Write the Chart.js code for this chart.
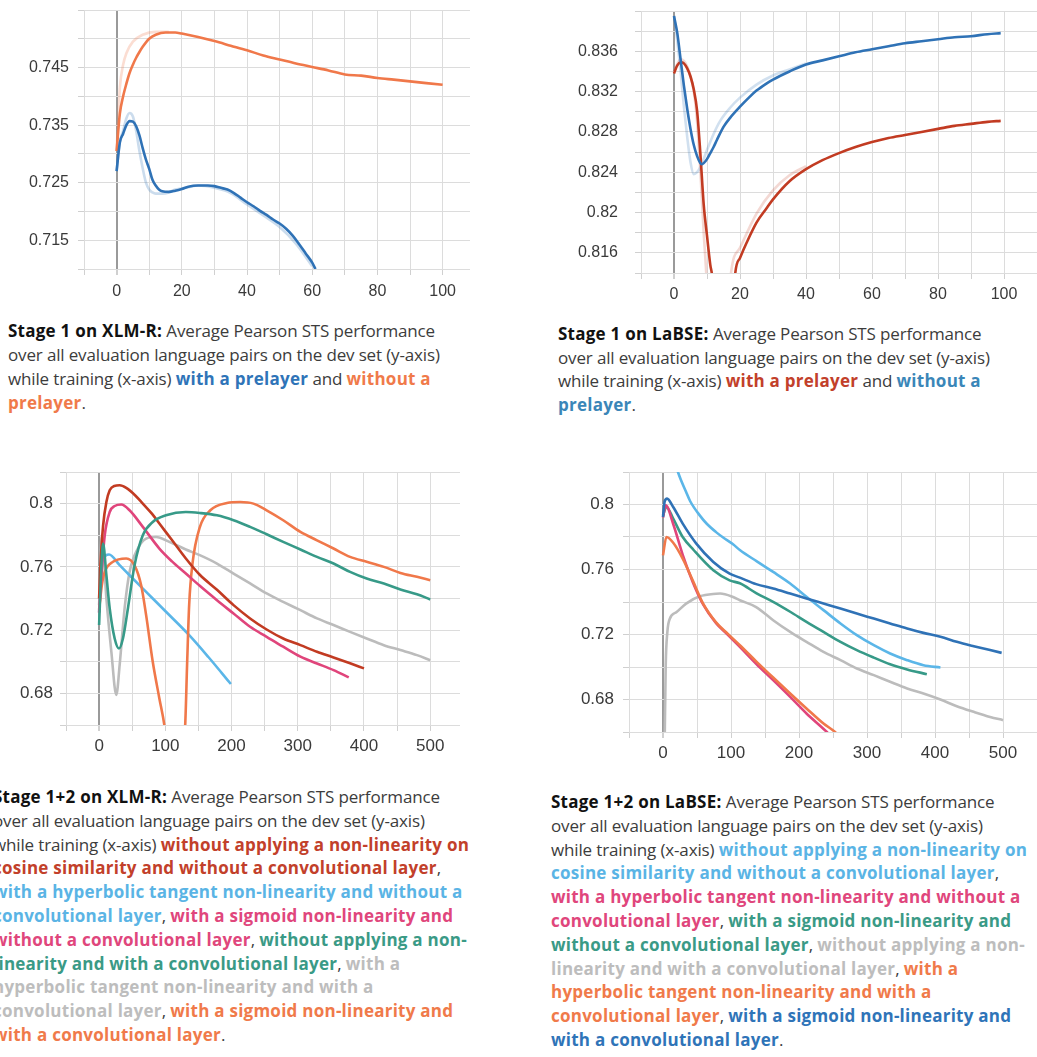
<!DOCTYPE html>
<html lang="en">
<head>
<meta charset="UTF-8">
<title>Pearson STS dev curves</title>
<script src="https://cdn.jsdelivr.net/npm/chart.js"></script>
<style>
    body { margin: 0; background: #fff; }
    .page { position: relative; width: 1037px; height: 1057px; overflow: hidden; }
    canvas { position: absolute; }
    .cap {
        position: absolute;
        font-family: 'Open Sans', 'Noto Sans', sans-serif;
        font-size: 17px;
        letter-spacing: -0.15px;
        color: #3c3c3c;
        white-space: nowrap;
    }
    .cap b { font-weight: 700; color: #111; letter-spacing: 0.25px; }
    .cap span { font-weight: 700; letter-spacing: 0.25px; }
    .blue { color: #2f74b8; }
    .steel { color: #3a86b8; }
    .orange { color: #f07a4a; }
    .red { color: #c2402a; }
    .lblue { color: #5ab4e5; }
    .pink { color: #e0467c; }
    .teal { color: #3a9a86; }
    .grey { color: #bdbdbd; }
</style>
</head>
<body>
<div class="page">
    <canvas id="c1" width="470" height="310" style="left:0;top:0"></canvas>
    <canvas id="c2" width="477" height="315" style="left:560px;top:0"></canvas>
    <canvas id="c3" width="460" height="310" style="left:0;top:460px"></canvas>
    <canvas id="c4" width="497" height="320" style="left:540px;top:460px"></canvas>

    <div class="cap" style="left:8px;top:319px;line-height:24px">
        <b>Stage 1 on XLM-R:</b> Average Pearson STS performance<br>
        over all evaluation language pairs on the dev set (y-axis)<br>
        while training (x-axis) <span class="blue">with a prelayer</span> and <span class="orange">without a</span><br>
        <span class="orange">prelayer</span>.
    </div>
    <div class="cap" style="left:558px;top:322px;line-height:23.5px">
        <b>Stage 1 on LaBSE:</b> Average Pearson STS performance<br>
        over all evaluation language pairs on the dev set (y-axis)<br>
        while training (x-axis) <span class="red">with a prelayer</span> and <span class="steel">without a</span><br>
        <span class="steel">prelayer</span>.
    </div>
    <div class="cap" style="left:-7px;top:785px;line-height:23.8px">
        <b>Stage 1+2 on XLM-R:</b> Average Pearson STS performance<br>
        over all evaluation language pairs on the dev set (y-axis)<br>
        while training (x-axis) <span class="red">without applying a non-linearity on</span><br>
        <span class="red">cosine similarity and without a convolutional layer</span>,<br>
        <span class="lblue">with a hyperbolic tangent non-linearity and without a</span><br>
        <span class="lblue">convolutional layer</span>, <span class="pink">with a sigmoid non-linearity and</span><br>
        <span class="pink">without a convolutional layer</span>, <span class="teal">without applying a non-</span><br>
        <span class="teal">linearity and with a convolutional layer</span>, <span class="grey">with a</span><br>
        <span class="grey">hyperbolic tangent non-linearity and with a</span><br>
        <span class="grey">convolutional layer</span>, <span class="orange">with a sigmoid non-linearity and</span><br>
        <span class="orange">with a convolutional layer</span>.
    </div>
    <div class="cap" style="left:551px;top:790px;line-height:23.8px">
        <b>Stage 1+2 on LaBSE:</b> Average Pearson STS performance<br>
        over all evaluation language pairs on the dev set (y-axis)<br>
        while training (x-axis) <span class="lblue">without applying a non-linearity on</span><br>
        <span class="lblue">cosine similarity and without a convolutional layer</span>,<br>
        <span class="pink">with a hyperbolic tangent non-linearity and without a</span><br>
        <span class="pink">convolutional layer</span>, <span class="teal">with a sigmoid non-linearity and</span><br>
        <span class="teal">without a convolutional layer</span>, <span class="grey">without applying a non-</span><br>
        <span class="grey">linearity and with a convolutional layer</span>, <span class="orange">with a</span><br>
        <span class="orange">hyperbolic tangent non-linearity and with a</span><br>
        <span class="orange">convolutional layer</span>, <span class="blue">with a sigmoid non-linearity and</span><br>
        <span class="blue">with a convolutional layer</span>.
    </div>
</div>
<script>
    // ---- Stage 1 on XLM-R ----
    const xlmrPreX = [0, 1, 2, 3, 4, 5, 6, 7, 8, 9, 10, 11, 12, 13, 14, 16, 18, 20, 22, 25, 28, 30, 32, 34, 36, 38, 40, 42, 44, 46, 48, 50, 52, 54, 56, 58, 60, 61];
    const xlmrPreY = [0.727, 0.732, 0.7335, 0.735, 0.7357, 0.7356, 0.7348, 0.7332, 0.731, 0.729, 0.7274, 0.7255, 0.7245, 0.7238, 0.7235, 0.7234, 0.7236, 0.7239, 0.7243, 0.7245, 0.7245, 0.7244, 0.7241, 0.7238, 0.7232, 0.7224, 0.7216, 0.7209, 0.7201, 0.7194, 0.7186, 0.7179, 0.717, 0.7158, 0.7143, 0.7127, 0.7111, 0.71];
    const xlmrPreRawX = [0, 1, 2, 3, 4, 5, 6, 7, 8, 9, 10, 11, 12, 14, 16, 18, 20, 22, 25, 30, 35, 40, 45, 50, 55, 60];
    const xlmrPreRawY = [0.727, 0.732, 0.734, 0.7362, 0.7371, 0.7365, 0.734, 0.7305, 0.7275, 0.725, 0.7238, 0.7233, 0.7231, 0.7231, 0.7233, 0.7238, 0.724, 0.7242, 0.7245, 0.7241, 0.7232, 0.7212, 0.7193, 0.7173, 0.7144, 0.7105];
    const xlmrNoPreX = [0, 1, 2, 3, 4, 5, 6, 7, 8, 10, 12, 15, 18, 20, 25, 30, 35, 40, 45, 50, 55, 60, 65, 70, 75, 80, 85, 90, 95, 100];
    const xlmrNoPreY = [0.7305, 0.737, 0.74, 0.7422, 0.7441, 0.7455, 0.7467, 0.7477, 0.7486, 0.75, 0.7507, 0.7511, 0.7511, 0.7509, 0.7503, 0.7496, 0.7488, 0.748, 0.7471, 0.7464, 0.7457, 0.7451, 0.7445, 0.7438, 0.7436, 0.7432, 0.7429, 0.7426, 0.7423, 0.742];
    const xlmrNoPreRawX = [0, 1, 2, 3, 5, 8, 12, 16];
    const xlmrNoPreRawY = [0.7305, 0.7415, 0.7455, 0.7475, 0.7495, 0.7507, 0.7512, 0.7512];
    const c1XTicks = [-10, 0, 10, 20, 30, 40, 50, 60, 70, 80, 90, 100];
    const c1XLabels = ['', '0', '', '20', '', '40', '', '60', '', '80', '', '100'];
    const c1YTicks = [0.71, 0.715, 0.72, 0.725, 0.73, 0.735, 0.74, 0.745, 0.75, 0.755];
    const c1YLabels = ['', '0.715', '', '0.725', '', '0.735', '', '0.745', '', ''];

    // ---- Stage 1 on LaBSE ----
    const labsePreX = [0, 1, 2, 3, 4, 5, 6, 7, 8, 9, 10, 11, 11.6, 15, 18.5, 20, 22, 25, 28, 30, 35, 40, 45, 50, 55, 60, 65, 70, 75, 80, 85, 90, 95, 99];
    const labsePreY = [0.8338, 0.8346, 0.8349, 0.8348, 0.8343, 0.8335, 0.8322, 0.8301, 0.8258, 0.8208, 0.8177, 0.8148, 0.8135, 0.79, 0.8138, 0.8155, 0.817, 0.819, 0.8204, 0.8213, 0.8231, 0.8243, 0.8252, 0.8259, 0.8265, 0.827, 0.8274, 0.8277, 0.828, 0.8283, 0.8286, 0.8288, 0.829, 0.8291];
    const labsePreRawX = [0, 2, 4, 6, 7, 8, 9, 9.8, 13, 17.2, 20, 25, 30, 35, 40];
    const labsePreRawY = [0.834, 0.8352, 0.8345, 0.832, 0.829, 0.824, 0.818, 0.8138, 0.79, 0.8138, 0.8165, 0.8199, 0.8222, 0.8237, 0.8246];
    const labseNoPreX = [0, 1, 2, 3, 4, 5, 6, 7, 8, 8.5, 9, 10, 11, 12, 13, 15, 17, 20, 23, 25, 28, 30, 35, 40, 45, 50, 55, 60, 65, 70, 75, 80, 85, 90, 95, 99];
    const labseNoPreY = [0.8395, 0.8378, 0.8352, 0.8326, 0.8303, 0.8283, 0.8267, 0.8256, 0.8249, 0.8248, 0.8249, 0.8253, 0.8259, 0.8265, 0.8272, 0.8285, 0.8294, 0.8305, 0.8315, 0.8321, 0.8328, 0.8332, 0.834, 0.8347, 0.8351, 0.8355, 0.8359, 0.8362, 0.8365, 0.8368, 0.837, 0.8372, 0.8374, 0.8375, 0.8377, 0.8378];
    const labseNoPreRawX = [0, 1, 2, 3, 4, 5, 6, 7, 8, 10, 12, 14, 17, 20, 25, 30, 35, 40];
    const labseNoPreRawY = [0.8395, 0.837, 0.834, 0.8305, 0.8275, 0.825, 0.8238, 0.824, 0.8245, 0.8262, 0.8278, 0.8291, 0.8304, 0.8314, 0.8327, 0.8336, 0.8342, 0.8348];
    const c2XTicks = [-10, 0, 10, 20, 30, 40, 50, 60, 70, 80, 90, 100];
    const c2XLabels = ['', '0', '', '20', '', '40', '', '60', '', '80', '', '100'];
    const c2YTicks = [0.814, 0.816, 0.818, 0.82, 0.822, 0.824, 0.826, 0.828, 0.83, 0.832, 0.834, 0.836, 0.838, 0.84];
    const c2YLabels = ['', '0.816', '', '0.82', '', '0.824', '', '0.828', '', '0.832', '', '0.836', '', ''];

    // ---- Stage 1+2 on XLM-R ----
    const xs2NoneX = [0, 2, 6, 11, 16, 23, 31, 41, 55, 66, 80, 91, 110, 131, 152, 178, 203, 228, 253, 278, 304, 329, 354, 379, 400];
    const xs2NoneY = [0.74, 0.761, 0.786, 0.801, 0.8084, 0.8112, 0.8116, 0.8099, 0.805, 0.8, 0.7935, 0.7874, 0.777, 0.7653, 0.755, 0.7455, 0.7358, 0.7274, 0.7204, 0.7147, 0.7105, 0.7063, 0.7027, 0.699, 0.6958];
    const xs2TanhX = [0, 5, 15, 31, 46, 71, 101, 136, 165, 185, 199];
    const xs2TanhY = [0.7316, 0.7632, 0.7678, 0.7611, 0.7547, 0.7442, 0.7316, 0.7168, 0.703, 0.693, 0.6859];
    const xs2SigX = [0, 3.5, 8.5, 16, 23.5, 33.5, 46, 66, 91, 110, 131, 152, 178, 203, 228, 253, 278, 304, 329, 354, 377];
    const xs2SigY = [0.731, 0.7547, 0.78, 0.7947, 0.7985, 0.7994, 0.7958, 0.7853, 0.7716, 0.7635, 0.7558, 0.748, 0.7389, 0.7305, 0.7221, 0.7158, 0.7095, 0.7032, 0.6989, 0.6947, 0.6901];
    const xs2ConvX = [0, 3.5, 6, 11, 16, 23.5, 30, 36, 43.5, 53.5, 66, 81, 101, 131, 152, 178, 203, 228, 253, 278, 304, 329, 354, 379, 404, 430, 455, 480, 500];
    const xs2ConvY = [0.7232, 0.761, 0.7747, 0.7547, 0.7337, 0.7147, 0.7084, 0.7147, 0.7337, 0.761, 0.78, 0.7884, 0.7926, 0.7947, 0.7941, 0.7926, 0.7895, 0.7853, 0.7806, 0.7758, 0.771, 0.7663, 0.7621, 0.7568, 0.7526, 0.7495, 0.7457, 0.7427, 0.7394];
    const xs2ConvTanhX = [0, 4, 11, 18.5, 26, 31, 38.5, 46, 58.5, 71, 86, 106, 131, 152, 178, 203, 228, 253, 278, 304, 329, 354, 379, 404, 430, 455, 480, 500];
    const xs2ConvTanhY = [0.7358, 0.78, 0.74, 0.7063, 0.679, 0.6979, 0.7337, 0.7568, 0.7716, 0.7779, 0.7789, 0.7758, 0.771, 0.7674, 0.7621, 0.7558, 0.7495, 0.7432, 0.7379, 0.7326, 0.7274, 0.7232, 0.7189, 0.7147, 0.7105, 0.7074, 0.7042, 0.701];
    const xs2ConvSigX = [0, 4, 8.5, 21, 41, 53.5, 63.5, 71, 81, 91, 98.5, 110, 120, 130, 133, 136, 141, 152, 168, 193, 213, 233, 253, 278, 304, 329, 354, 379, 404, 430, 455, 480, 500];
    const xs2ConvSigY = [0.733, 0.748, 0.7568, 0.7632, 0.7653, 0.761, 0.7484, 0.7295, 0.7, 0.6768, 0.66, 0.62, 0.62, 0.66, 0.7, 0.736, 0.762, 0.785, 0.7958, 0.8004, 0.801, 0.8, 0.7958, 0.7895, 0.7821, 0.7768, 0.7716, 0.7663, 0.7632, 0.76, 0.7562, 0.7537, 0.7516];
    const c3XTicks = [-50, 0, 50, 100, 150, 200, 250, 300, 350, 400, 450, 500];
    const c3XLabels = ['', '0', '', '100', '', '200', '', '300', '', '400', '', '500'];
    const c3YTicks = [0.66, 0.68, 0.7, 0.72, 0.74, 0.76, 0.78, 0.8, 0.82];
    const c3YLabels = ['', '0.68', '', '0.72', '', '0.76', '', '0.8', ''];

    // ---- Stage 1+2 on LaBSE ----
    const lb2NoneX = [5, 12, 22, 34, 40, 54, 64, 78, 89, 103, 113, 138, 162, 187, 211, 236, 261, 285, 310, 334, 359, 383, 408];
    const lb2NoneY = [0.855, 0.835, 0.82, 0.8077, 0.802, 0.7933, 0.7883, 0.783, 0.7795, 0.7755, 0.772, 0.765, 0.7585, 0.7514, 0.7432, 0.735, 0.7268, 0.7196, 0.7134, 0.7083, 0.7042, 0.7011, 0.6997];
    const lb2TanhX = [0, 4, 15, 29, 44, 59, 78, 95, 113, 137, 162, 187, 211, 241, 250];
    const lb2TanhY = [0.792, 0.7995, 0.788, 0.769, 0.752, 0.7385, 0.727, 0.72, 0.7124, 0.702, 0.6919, 0.6816, 0.6714, 0.66, 0.656];
    const lb2SigX = [0, 5, 15, 29, 45, 74, 98, 113, 137, 162, 187, 211, 236, 261, 285, 310, 334, 359, 388];
    const lb2SigY = [0.7933, 0.7985, 0.7913, 0.78, 0.772, 0.7595, 0.7533, 0.7515, 0.7455, 0.7401, 0.734, 0.7278, 0.7216, 0.7155, 0.7104, 0.7058, 0.7017, 0.6985, 0.6956];
    const lb2ConvX = [0, 2, 4, 6.4, 10, 20, 34, 54, 78, 84, 103, 113, 137, 162, 187, 211, 236, 261, 285, 310, 334, 359, 383, 408, 432, 457, 481, 500];
    const lb2ConvY = [0.6, 0.64, 0.701, 0.7215, 0.7297, 0.7338, 0.739, 0.7435, 0.7451, 0.7452, 0.7431, 0.7411, 0.7369, 0.7288, 0.7216, 0.7155, 0.7093, 0.7042, 0.6991, 0.695, 0.6909, 0.6868, 0.6837, 0.68, 0.6759, 0.6724, 0.6693, 0.6673];
    const lb2ConvTanhX = [0, 5, 15, 29, 44, 59, 78, 95, 113, 137, 162, 187, 211, 236, 253, 260];
    const lb2ConvTanhY = [0.7687, 0.78, 0.7765, 0.7667, 0.753, 0.739, 0.7275, 0.7205, 0.7134, 0.7035, 0.6935, 0.6837, 0.6745, 0.6652, 0.66, 0.657];
    const lb2ConvSigX = [0, 2.5, 6, 15, 29, 49, 74, 98, 113, 137, 162, 187, 211, 236, 261, 285, 310, 334, 359, 383, 408, 432, 457, 481, 498];
    const lb2ConvSigY = [0.7923, 0.802, 0.8036, 0.7985, 0.7882, 0.7759, 0.7646, 0.7574, 0.755, 0.751, 0.7483, 0.7452, 0.7422, 0.7391, 0.736, 0.7329, 0.7298, 0.7268, 0.7237, 0.721, 0.7186, 0.7155, 0.7128, 0.7104, 0.7087];
    const c4XTicks = c3XTicks;
    const c4XLabels = c3XLabels;
    const c4YTicks = c3YTicks;
    const c4YLabels = c3YLabels;

    const TICK_FONT = "'Liberation Sans', Arial, sans-serif";

    function pts(xs, ys) {
        return xs.map((x, i) => ({ x: x, y: ys[i] }));
    }

    function line(xs, ys, color, order, width) {
        return {
            data: pts(xs, ys),
            borderColor: color,
            borderWidth: width || 2.6,
            pointRadius: 0,
            cubicInterpolationMode: 'monotone',
            fill: false,
            order: order
        };
    }

    // light grid, darker line at x = 0
    function gridOpts() {
        return {
            color: c => (c.tick && c.tick.value === 0 && c.scale.axis === 'x') ? '#9a9a9a' : '#dcdcdc',
            lineWidth: c => (c.tick && c.tick.value === 0 && c.scale.axis === 'x') ? 2 : 1,
            tickColor: '#d0d0d0',
            tickLength: 6,
            drawTicks: true
        };
    }

    function makeChart(id, g, datasets) {
        new Chart(document.getElementById(id), {
            type: 'line',
            data: { datasets: datasets },
            options: {
                responsive: false,
                animation: false,
                devicePixelRatio: 1,
                layout: { padding: { top: g.padTop, right: 0, left: 0, bottom: 0 } },
                plugins: { legend: { display: false }, tooltip: { enabled: false } },
                scales: {
                    x: {
                        type: 'linear',
                        min: g.xMin, max: g.xMax,
                        border: { display: false },
                        grid: gridOpts(),
                        afterBuildTicks: s => { s.ticks = g.xTicks.map(v => ({ value: v })); },
                        afterFit: s => { s.height = g.xH; s.paddingLeft = 0; s.paddingRight = 0; },
                        ticks: {
                            autoSkip: false, maxRotation: 0,
                            padding: g.xPad,
                            color: '#3a3a3a',
                            font: { family: TICK_FONT, size: g.font },
                            callback: (v, i) => g.xLabels[i]
                        }
                    },
                    y: {
                        type: 'linear',
                        min: g.yMin, max: g.yMax,
                        border: { display: false },
                        grid: gridOpts(),
                        afterBuildTicks: s => { s.ticks = g.yTicks.map(v => ({ value: v })); },
                        afterFit: s => { s.width = g.yW; s.paddingTop = 0; s.paddingBottom = 0; },
                        ticks: {
                            autoSkip: false,
                            padding: g.yPad,
                            color: '#3a3a3a',
                            font: { family: TICK_FONT, size: g.font },
                            callback: (v, i) => g.yLabels[i]
                        }
                    }
                }
            }
        });
    }

    const ORANGE = '#f0784a', BLUE = '#2f72b6', RED = '#c23b22', LBLUE = '#5bb6e8',
          PINK = '#e0457b', TEAL = '#379a88', GREY = '#bcbcbc';

    makeChart('c1', {
        xMin: -10, xMax: 108.4, yMin: 0.71, yMax: 0.755,
        xTicks: c1XTicks, xLabels: c1XLabels, yTicks: c1YTicks, yLabels: c1YLabels,
        yW: 84, xH: 41, padTop: 10, xPad: 7, yPad: 9, font: 16
    }, [
        line(xlmrNoPreRawX, xlmrNoPreRawY, 'rgba(240,120,74,0.25)', 4),
        line(xlmrPreRawX, xlmrPreRawY, 'rgba(47,114,182,0.25)', 3),
        line(xlmrNoPreX, xlmrNoPreY, ORANGE, 2),
        line(xlmrPreX, xlmrPreY, BLUE, 1)
    ]);

    makeChart('c2', {
        xMin: -10, xMax: 110, yMin: 0.814, yMax: 0.84,
        xTicks: c2XTicks, xLabels: c2XLabels, yTicks: c2YTicks, yLabels: c2YLabels,
        yW: 81, xH: 42, padTop: 11, xPad: 6, yPad: 17, font: 16
    }, [
        line(labsePreRawX, labsePreRawY, 'rgba(194,59,34,0.2)', 4),
        line(labseNoPreRawX, labseNoPreRawY, 'rgba(47,114,182,0.22)', 3),
        line(labsePreX, labsePreY, RED, 2),
        line(labseNoPreX, labseNoPreY, BLUE, 1)
    ]);

    makeChart('c3', {
        xMin: -50, xMax: 545, yMin: 0.66, yMax: 0.82,
        xTicks: c3XTicks, xLabels: c3XLabels, yTicks: c3YTicks, yLabels: c3YLabels,
        yW: 66, xH: 45, padTop: 12, xPad: 5, yPad: 7, font: 17
    }, [
        line(xs2ConvTanhX, xs2ConvTanhY, GREY, 6),
        line(xs2TanhX, xs2TanhY, LBLUE, 5),
        line(xs2ConvSigX, xs2ConvSigY, ORANGE, 4),
        line(xs2SigX, xs2SigY, PINK, 3),
        line(xs2NoneX, xs2NoneY, RED, 2),
        line(xs2ConvX, xs2ConvY, TEAL, 1)
    ]);

    makeChart('c4', {
        xMin: -50, xMax: 550, yMin: 0.66, yMax: 0.82,
        xTicks: c4XTicks, xLabels: c4XLabels, yTicks: c4YTicks, yLabels: c4YLabels,
        yW: 89, xH: 48, padTop: 12, xPad: 5, yPad: 9, font: 17
    }, [
        line(lb2ConvX, lb2ConvY, GREY, 6),
        line(lb2NoneX, lb2NoneY, LBLUE, 5),
        line(lb2SigX, lb2SigY, TEAL, 4),
        line(lb2TanhX, lb2TanhY, PINK, 3),
        line(lb2ConvTanhX, lb2ConvTanhY, ORANGE, 2),
        line(lb2ConvSigX, lb2ConvSigY, BLUE, 1)
    ]);
</script>
</body>
</html>
